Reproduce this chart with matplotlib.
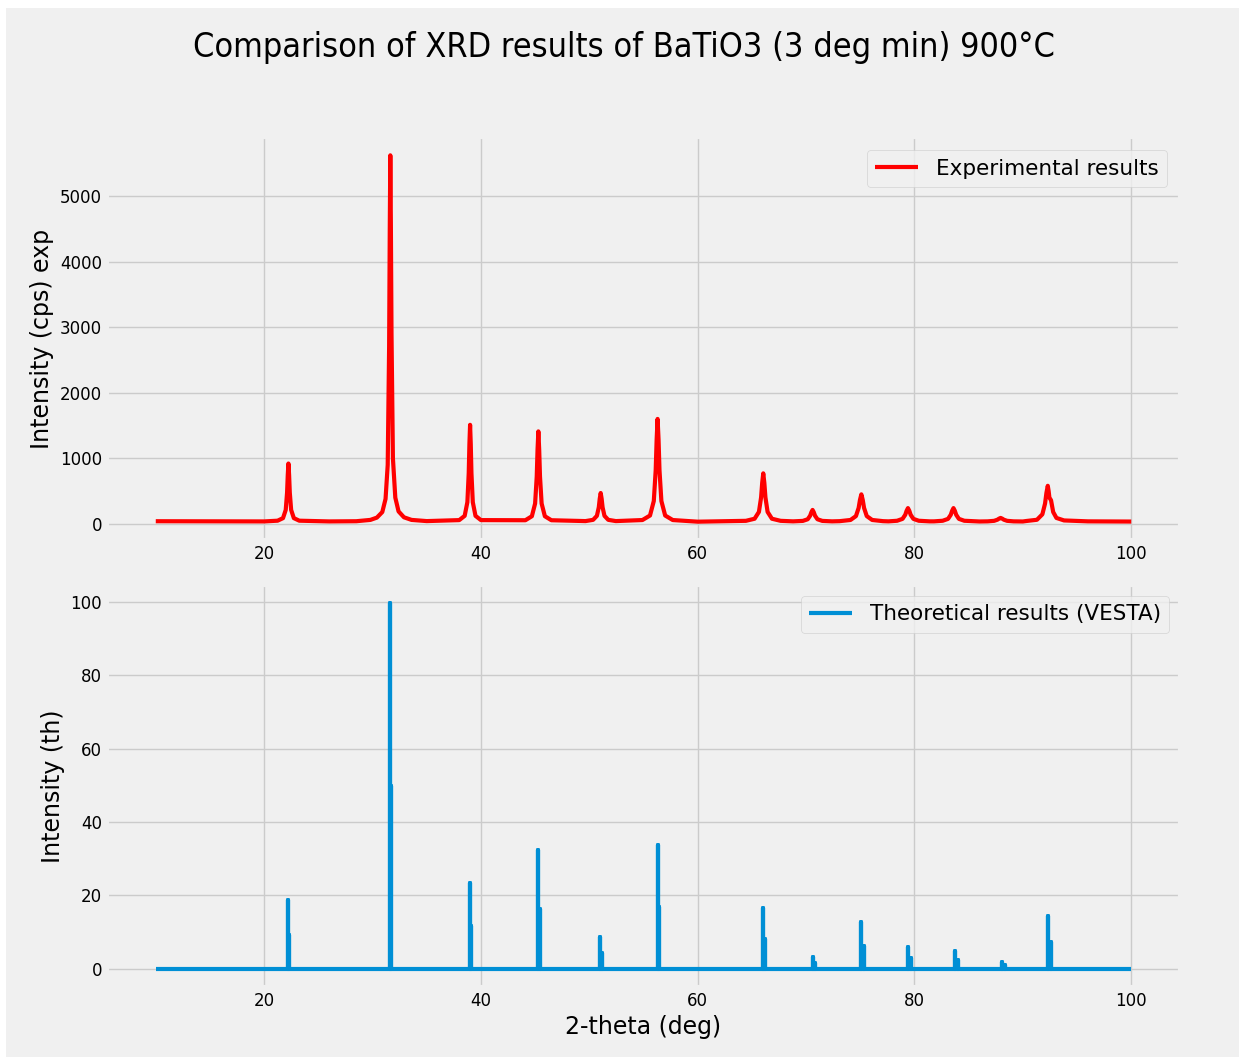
import numpy as np
import matplotlib
matplotlib.use("Agg")
import matplotlib.pyplot as plt
from matplotlib.patches import Rectangle

plt.style.use('fivethirtyeight')

# measured pattern, BaTiO3 calcined at 900 C (2-theta in deg, intensity in cps)
exp_two_theta = [
    10.0, 15.0, 20.0, 21.24,
    21.74, 21.99, 22.115, 22.178, 22.24, 22.302, 22.365, 22.49, 22.74, 23.24,
    26.0, 28.5, 29.8, 30.4, 30.9, 31.2, 31.4, 31.53, 31.59, 31.64, 31.69, 31.75, 31.88, 32.1, 32.4, 32.9, 33.6, 35.0,
    38.0, 38.5, 38.75, 38.875, 38.938, 39.0, 39.062, 39.125, 39.25, 39.5, 40.0,
    44.1, 44.7, 45.0, 45.15, 45.225, 45.3, 45.375, 45.45, 45.6, 45.9, 46.5,
    49.65, 50.35, 50.7, 50.875, 50.963, 51.05, 51.138, 51.225, 51.4, 51.75, 52.45,
    54.9, 55.6, 55.95, 56.125, 56.213, 56.3, 56.388, 56.475, 56.65, 57.0, 57.7,
    60.0,
    64.45, 65.25, 65.65, 65.85, 65.95, 66.05, 66.15, 66.25, 66.45, 66.85, 67.65,
    68.8, 69.7, 70.15, 70.375, 70.49, 70.6, 70.71, 70.825, 71.05, 71.5, 72.4,
    73.1, 74.1, 74.6, 74.85, 74.975, 75.1, 75.225, 75.35, 75.6, 76.1, 77.1,
    77.6, 78.4, 78.9, 79.15, 79.275, 79.4, 79.525, 79.65, 79.9, 80.4, 81.4,
    81.8, 82.6, 83.1, 83.35, 83.475, 83.6, 83.725, 83.85, 84.1, 84.6, 85.6,
    86.0, 86.75, 87.35, 87.65, 87.8, 87.95, 88.1, 88.25, 88.55, 89.15, 90.0,
    90.3, 91.3, 91.8, 92.05, 92.175, 92.3, 92.38, 92.45, 92.6, 92.8, 93.1, 93.8, 96.0, 100.0,
]
exp_cps = [
    40, 38, 37, 48,
    87, 212, 477, 743, 920, 743, 477, 212, 87, 48,
    37, 40, 60, 95, 180, 380, 900, 2700, 4500, 5620, 4600, 2900, 1000, 400, 190, 100, 60, 42,
    57, 122, 330, 773, 1215, 1510, 1215, 773, 330, 122, 57,
    55, 116, 310, 723, 1135, 1410, 1135, 723, 310, 116, 55,
    42, 61, 122, 252, 383, 470, 383, 252, 122, 61, 42,
    58, 127, 348, 818, 1287, 1600, 1287, 818, 348, 127, 58,
    33,
    46, 78, 182, 403, 623, 770, 623, 403, 182, 78, 46,
    38, 45, 70, 124, 177, 212, 177, 124, 70, 45, 38,
    41, 59, 118, 243, 367, 450, 367, 243, 118, 59, 41,
    38, 47, 76, 138, 199, 240, 199, 138, 76, 47, 38,
    38, 47, 76, 138, 199, 240, 199, 138, 76, 47, 38,
    36, 38, 46, 63, 79, 90, 79, 63, 46, 38, 36,
    43, 62, 145, 310, 471, 580, 500, 400, 360, 180, 90, 52, 38, 35,
]

# simulated pattern from VESTA: K-alpha1 / K-alpha2 reflection pairs
th_ka1_pos = [22.2, 31.6, 38.95, 45.3, 51.0, 56.3, 66.0, 70.6, 75.1, 79.45, 83.75, 88.05, 92.3]
th_ka1_int = [18.7, 99.7, 23.5, 32.4, 8.6, 33.8, 16.6, 3.3, 12.7, 5.9, 4.8, 1.9, 14.5]
th_ka2_pos = [22.26, 31.68, 39.05, 45.42, 51.13, 56.46, 66.19, 70.81, 75.34, 79.72, 84.04, 88.37, 92.64]
th_ka2_int = [9.3, 49.8, 11.6, 16.2, 4.3, 16.8, 8.2, 1.6, 6.3, 2.9, 2.4, 0.9, 7.3]
th_range = [10.0, 100.0]

# build the stick profile as one continuous line along 2-theta
th_x = [th_range[0]]
th_y = [0.0]
for p1, i1, p2, i2 in zip(th_ka1_pos, th_ka1_int, th_ka2_pos, th_ka2_int):
    th_x += [p1, p1, p1, p2, p2, p2]
    th_y += [0.0, i1, 0.0, 0.0, i2, 0.0]
th_x.append(th_range[1])
th_y.append(0.0)

W, H = 1239, 1057
fig = plt.figure(figsize=(W / 100, H / 100), dpi=100)
fig.patch.set_facecolor('white')
fig.add_artist(Rectangle((6 / W, 0), 1 - 6 / W, 1 - 8 / H, transform=fig.transFigure,
                         facecolor='#f0f0f0', edgecolor='none', zorder=-10))

ax1 = fig.add_axes([107 / W, 1 - 540 / H, 1073 / W, 403 / H])
ax2 = fig.add_axes([107 / W, 1 - 987 / H, 1073 / W, 402 / H])

ax1.plot(exp_two_theta, exp_cps, color='red', lw=3.0, label='Experimental results')
ax1.set_ylabel('Intensity (cps) exp', fontsize=17)
ax1.set_yticks([0, 1000, 2000, 3000, 4000, 5000])
ax1.legend(loc='upper right', fontsize=15.5, borderaxespad=0.6)

ax2.plot(th_x, th_y, color='#008fd5', lw=3.0, label='Theoretical results (VESTA)')
ax2.set_ylabel('Intensity (th)', fontsize=17)
ax2.set_xlabel('2-theta (deg)', fontsize=17)
ax2.set_yticks([0, 20, 40, 60, 80, 100])
ax2.legend(loc='upper right', fontsize=15.5)

for ax in (ax1, ax2):
    ax.set_facecolor('#f0f0f0')
    ax.set_xticks([20, 40, 60, 80, 100])
    ax.tick_params(labelsize=12)

fig.text(624 / W, 1 - 57 / H, 'Comparison of XRD results of BaTiO3 (3 deg min) 900°C',
         ha='center', va='baseline', fontsize=24.5, family='DejaVu Sans', stretch='condensed')

fig.savefig('out.png', dpi=100, facecolor=fig.get_facecolor())
